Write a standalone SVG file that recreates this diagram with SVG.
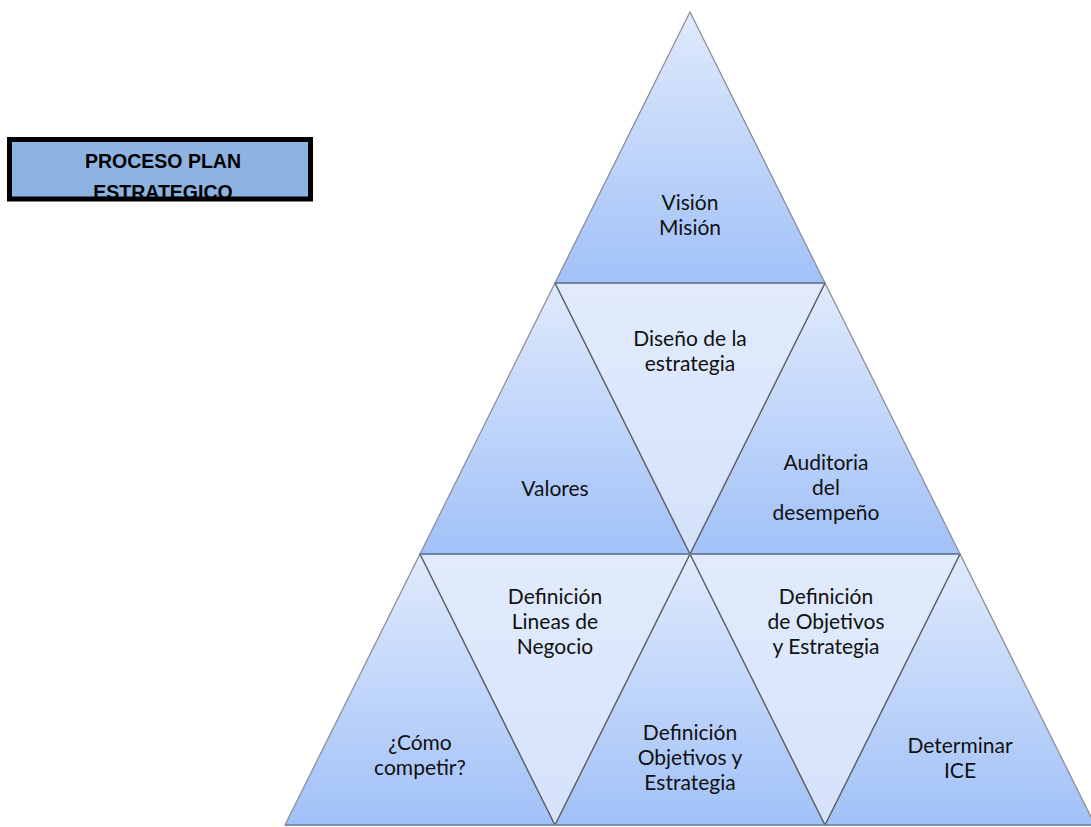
<svg xmlns="http://www.w3.org/2000/svg" width="1091" height="827" viewBox="0 0 1091 827">
<defs>
<linearGradient id="up" x1="0" y1="0" x2="0" y2="1">
<stop offset="0" stop-color="#e0eafc"/>
<stop offset="1" stop-color="#a1c1f8"/>
</linearGradient>
<linearGradient id="down" x1="0" y1="0" x2="0" y2="1">
<stop offset="0" stop-color="#e1ebfc"/>
<stop offset="1" stop-color="#d4e2fa"/>
</linearGradient>
</defs>
<style>
.up{fill:url(#up);stroke:#8a8f99;stroke-width:1.3;stroke-linejoin:round}
.dn{fill:url(#down);stroke:#5d6066;stroke-width:1.4;stroke-linejoin:round}
.base{stroke:#7088b3;stroke-width:1.6}
text{font-family:Lato,"Liberation Sans",sans-serif;font-size:21px;fill:#111;text-anchor:middle}
.title{font-family:"Liberation Sans",Arial,sans-serif;font-weight:bold;font-size:19.5px;fill:#000}
</style>
<rect width="1091" height="827" fill="#fff"/>

<g id="title">
<rect x="9" y="139" width="302" height="60" fill="#8db3e2"/>
<text class="title" x="163" y="168">PROCESO PLAN</text>
<text class="title" x="163" y="199">ESTRATEGICO</text>
<rect x="9.5" y="139.5" width="301" height="59.5" fill="none" stroke="#000" stroke-width="5"/>
</g>

<g id="t-vision">
<polygon class="up" points="690,12 555,283 825,283"/>
<text x="690" y="210">Visión</text>
<text x="690" y="235">Misión</text>
</g>
<g id="t-valores">
<polygon class="up" points="555,283 420,554 690,554"/>
<text x="555" y="496">Valores</text>
</g>
<g id="t-auditoria">
<polygon class="up" points="825,283 690,554 960,554"/>
<text x="826" y="470">Auditoria</text>
<text x="826" y="495">del</text>
<text x="826" y="520">desempeño</text>
</g>
<g id="t-como">
<polygon class="up" points="420,554 285,825 555,825"/>
<text x="420" y="750">¿Cómo</text>
<text x="420" y="775">competir?</text>
</g>
<g id="t-objetivos2">
<polygon class="up" points="690,554 555,825 825,825"/>
<text x="690" y="740">Definición</text>
<text x="690" y="765">Objetivos y</text>
<text x="690" y="790">Estrategia</text>
</g>
<g id="t-ice">
<polygon class="up" points="960,554 825,825 1095,825"/>
<text x="960" y="753">Determinar</text>
<text x="960" y="778">ICE</text>
</g>

<g id="t-diseno">
<polygon class="dn" points="555,283 825,283 690,554"/>
<text x="690" y="346">Diseño de la</text>
<text x="690" y="371">estrategia</text>
</g>
<g id="t-lineas">
<polygon class="dn" points="420,554 690,554 555,825"/>
<text x="555" y="604">Definición</text>
<text x="555" y="629">Lineas de</text>
<text x="555" y="654">Negocio</text>
</g>
<g id="t-objetivos1">
<polygon class="dn" points="690,554 960,554 825,825"/>
<text x="826" y="604">Definición</text>
<text x="826" y="629">de Objetivos</text>
<text x="826" y="654">y Estrategia</text>
</g>

<g id="bases">
<line class="base" x1="555" y1="283" x2="825" y2="283"/>
<line class="base" x1="420" y1="554" x2="960" y2="554"/>
<line class="base" x1="285" y1="825" x2="1095" y2="825"/>
</g>
</svg>
